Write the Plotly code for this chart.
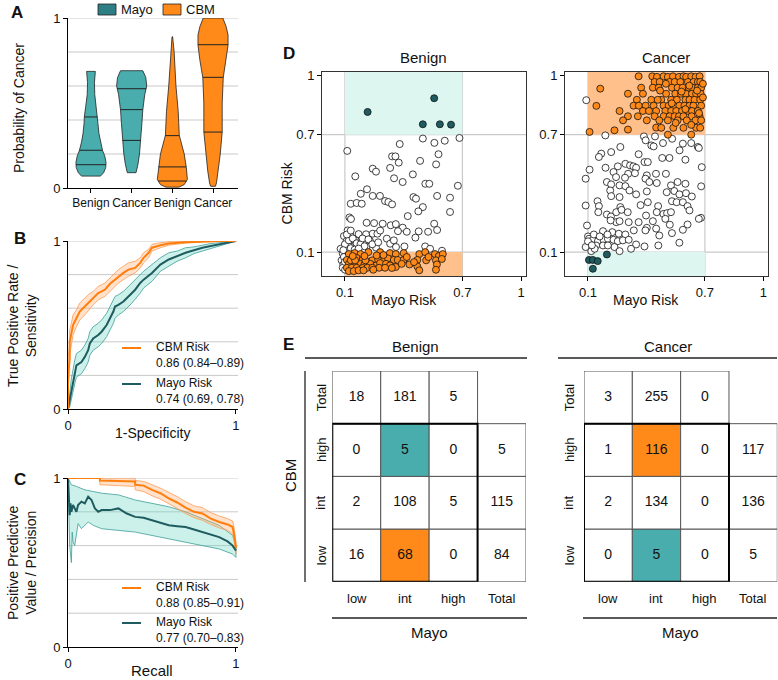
import numpy as np
import plotly.graph_objects as go

W, H = 778, 680
FONT = "Liberation Sans, Arial, Helvetica, sans-serif"

# ===================== DATA =====================
# ---- Panel A: violin profiles (level, relative density) and quartiles ----
violin_categories = ["Benign", "Cancer", "Benign", "Cancer"]
mayo_benign_levels = [0.07, 0.09, 0.12, 0.15, 0.19, 0.22, 0.27, 0.32, 0.38, 0.42, 0.48, 0.55, 0.62, 0.686]
mayo_benign_density = [0.63, 0.84, 0.98, 1.0, 0.91, 0.77, 0.63, 0.53, 0.46, 0.44, 0.35, 0.25, 0.23, 0.29]
mayo_cancer_levels = [0.09, 0.14, 0.2, 0.28, 0.38, 0.46, 0.55, 0.6, 0.65, 0.69]
mayo_cancer_density = [0.29, 0.42, 0.52, 0.61, 0.68, 0.74, 0.87, 1.0, 0.94, 0.74]
cbm_benign_levels = [0.005, 0.02, 0.05, 0.08, 0.12, 0.2, 0.31, 0.45, 0.6, 0.8, 0.89]
cbm_benign_density = [0.43, 0.79, 1.0, 0.96, 0.93, 0.79, 0.46, 0.39, 0.24, 0.12, 0.02]
cbm_cancer_levels = [0.01, 0.03, 0.1, 0.2, 0.33, 0.5, 0.65, 0.75, 0.84, 0.9, 0.95, 1.0]
cbm_cancer_density = [0.16, 0.23, 0.35, 0.48, 0.61, 0.61, 0.68, 0.87, 1.0, 1.0, 0.87, 0.65]
mayo_benign_quartiles = [0.137, 0.222, 0.418]
mayo_cancer_quartiles = [0.280, 0.461, 0.584]
cbm_benign_quartiles = [0.041, 0.124, 0.308]
cbm_cancer_quartiles = [0.329, 0.651, 0.843]

# ---- Panel B: ROC curves ----
cbm_roc_fpr = [0, 0, 0.01, 0.01, 0.02, 0.03, 0.05, 0.07, 0.1, 0.12, 0.15, 0.18, 0.2, 0.22, 0.25, 0.28, 0.3, 0.33,
               0.36, 0.4, 0.43, 0.45, 0.48, 0.5, 0.55, 0.6, 0.7, 0.8, 0.9, 1.0]
cbm_roc_tpr = [0, 0.2, 0.3, 0.4, 0.45, 0.5, 0.54, 0.58, 0.61, 0.63, 0.66, 0.69, 0.70, 0.71, 0.745, 0.77, 0.79, 0.81,
               0.83, 0.84, 0.87, 0.90, 0.93, 0.96, 0.975, 0.985, 0.993, 0.997, 1.0, 1.0]
cbm_roc_lo = [0, 0.12, 0.22, 0.32, 0.39, 0.44, 0.49, 0.53, 0.56, 0.58, 0.62, 0.65, 0.66, 0.67, 0.70, 0.73, 0.75, 0.77,
              0.79, 0.81, 0.84, 0.87, 0.90, 0.94, 0.96, 0.975, 0.988, 0.994, 0.998, 1.0]
cbm_roc_hi = [0, 0.3, 0.38, 0.47, 0.51, 0.56, 0.59, 0.63, 0.66, 0.68, 0.70, 0.73, 0.74, 0.75, 0.78, 0.81, 0.83, 0.85,
              0.87, 0.88, 0.90, 0.93, 0.95, 0.98, 0.99, 0.995, 0.998, 1.0, 1.0, 1.0]
mayo_roc_fpr = [0, 0.01, 0.02, 0.04, 0.05, 0.08, 0.1, 0.12, 0.13, 0.15, 0.18, 0.2, 0.23, 0.25, 0.27, 0.28, 0.3, 0.33,
                0.35, 0.38, 0.4, 0.43, 0.45, 0.5, 0.55, 0.6, 0.65, 0.7, 0.75, 0.8, 0.85, 0.9, 0.95, 1.0]
mayo_roc_tpr = [0, 0.05, 0.12, 0.22, 0.26, 0.28, 0.31, 0.35, 0.39, 0.42, 0.44, 0.46, 0.5, 0.54, 0.58, 0.61, 0.62, 0.64,
                0.66, 0.69, 0.71, 0.75, 0.77, 0.81, 0.86, 0.89, 0.91, 0.93, 0.945, 0.96, 0.97, 0.98, 0.99, 1.0]
mayo_roc_lo = [0, 0.01, 0.06, 0.15, 0.19, 0.21, 0.24, 0.28, 0.32, 0.35, 0.37, 0.39, 0.43, 0.47, 0.51, 0.54, 0.56, 0.58,
               0.60, 0.63, 0.65, 0.69, 0.72, 0.76, 0.82, 0.85, 0.88, 0.90, 0.925, 0.94, 0.955, 0.97, 0.985, 1.0]
mayo_roc_hi = [0, 0.09, 0.18, 0.29, 0.33, 0.35, 0.38, 0.42, 0.46, 0.49, 0.51, 0.53, 0.57, 0.61, 0.65, 0.67, 0.68, 0.70,
               0.72, 0.75, 0.77, 0.80, 0.82, 0.86, 0.90, 0.93, 0.94, 0.96, 0.965, 0.975, 0.985, 0.99, 0.995, 1.0]
cbm_roc_label = ["CBM Risk", "0.86 (0.84–0.89)"]
mayo_roc_label = ["Mayo Risk", "0.74 (0.69, 0.78)"]

# ---- Panel C: precision-recall curves ----
cbm_pr_recall = [0, 0.19, 0.19, 0.3, 0.4, 0.4, 0.45, 0.5, 0.55, 0.6, 0.65, 0.7, 0.75, 0.8, 0.85, 0.9, 0.95, 0.98,
                 0.99, 1.0]
cbm_pr_precision = [1.0, 1.0, 0.985, 0.983, 0.98, 0.96, 0.955, 0.93, 0.91, 0.88, 0.855, 0.825, 0.80, 0.79, 0.76,
                    0.74, 0.725, 0.71, 0.66, 0.585]
cbm_pr_lo = [1.0, 1.0, 0.96, 0.955, 0.95, 0.93, 0.92, 0.895, 0.875, 0.845, 0.82, 0.79, 0.765, 0.75, 0.725, 0.705,
             0.69, 0.67, 0.62, 0.55]
cbm_pr_hi = [1.0, 1.0, 1.0, 1.0, 1.0, 0.985, 0.98, 0.96, 0.94, 0.915, 0.89, 0.86, 0.835, 0.825, 0.795, 0.775, 0.76,
             0.745, 0.70, 0.62]
mayo_pr_recall = [0, 0.005, 0.01, 0.015, 0.02, 0.025, 0.03, 0.04, 0.05, 0.06, 0.08, 0.1, 0.12, 0.14, 0.16, 0.18,
                  0.2, 0.25, 0.3, 0.35, 0.4, 0.45, 0.5, 0.55, 0.6, 0.65, 0.7, 0.75, 0.8, 0.85, 0.9, 0.95, 0.98, 1.0]
mayo_pr_precision = [1.0, 0.9, 0.78, 0.85, 0.8, 0.82, 0.84, 0.82, 0.8, 0.84, 0.86, 0.85, 0.89, 0.87, 0.82, 0.8,
                     0.81, 0.81, 0.82, 0.79, 0.77, 0.765, 0.75, 0.735, 0.72, 0.715, 0.71, 0.695, 0.68, 0.665, 0.65,
                     0.625, 0.6, 0.57]
mayo_pr_lo_recall = [0, 0.01, 0.02, 0.025, 0.03, 0.04, 0.06, 0.08, 0.12, 0.15, 0.2, 0.3, 0.4, 0.5, 0.6, 0.7, 0.8,
                     0.9, 0.98, 1.0]
mayo_pr_lo = [1.0, 0.6, 0.5, 0.68, 0.62, 0.6, 0.73, 0.7, 0.74, 0.72, 0.70, 0.69, 0.68, 0.66, 0.64, 0.62, 0.60,
              0.58, 0.55, 0.53]
mayo_pr_hi_recall = [0, 0.02, 0.05, 0.1, 0.15, 0.2, 0.3, 0.4, 0.5, 0.6, 0.7, 0.8, 0.9, 0.98, 1.0]
mayo_pr_hi = [1.0, 0.96, 0.95, 0.93, 0.92, 0.91, 0.9, 0.87, 0.85, 0.83, 0.80, 0.76, 0.72, 0.66, 0.6]
cbm_pr_label = ["CBM Risk", "0.88 (0.85–0.91)"]
mayo_pr_label = ["Mayo Risk", "0.77 (0.70–0.83)"]

# ---- Panel D: (Mayo risk, CBM risk) per patient ----
benign_teal = [(0.216, 0.816), (0.556, 0.886), (0.498, 0.753), (0.585, 0.753), (0.642, 0.751)]
benign_orange = [
    (0.12, 0.09), (0.15, 0.095), (0.18, 0.09), (0.22, 0.10), (0.28, 0.10), (0.33, 0.095), (0.36, 0.09),
    (0.40, 0.095), (0.48, 0.09), (0.51, 0.10), (0.56, 0.09), (0.58, 0.08), (0.60, 0.09),
    (0.11, 0.06), (0.135, 0.066), (0.16, 0.07), (0.19, 0.06), (0.24, 0.058), (0.27, 0.06), (0.30, 0.058),
    (0.32, 0.068), (0.35, 0.06), (0.37, 0.06), (0.40, 0.06), (0.47, 0.06), (0.515, 0.058), (0.565, 0.058),
    (0.595, 0.065),
    (0.12, 0.04), (0.15, 0.044), (0.18, 0.04), (0.20, 0.037), (0.23, 0.04), (0.26, 0.032), (0.28, 0.044),
    (0.31, 0.04), (0.33, 0.032), (0.36, 0.024), (0.43, 0.037), (0.47, 0.027), (0.57, 0.037),
    (0.11, 0.02), (0.135, 0.02), (0.16, 0.02), (0.19, 0.019), (0.215, 0.02), (0.24, 0.02), (0.275, 0.02),
    (0.305, 0.02), (0.34, 0.019), (0.48, 0.007), (0.565, 0.01),
    (0.12, 0.003), (0.145, 0.003), (0.17, 0.007), (0.195, 0.007), (0.245, 0.01),
    (0.13, 0.058), (0.152, 0.058), (0.205, 0.058), (0.262, 0.083), (0.39, 0.04), (0.416, 0.075),
    (0.453, 0.049), (0.527, 0.075), (0.297, 0.085), (0.14, 0.08), (0.2, 0.08)]
benign_white = [
    (0.112, 0.617), (0.498, 0.680), (0.557, 0.658), (0.610, 0.669), (0.685, 0.683), (0.380, 0.652),
    (0.341, 0.589), (0.358, 0.589), (0.375, 0.557), (0.484, 0.566), (0.578, 0.600), (0.566, 0.548),
    (0.242, 0.526), (0.259, 0.511), (0.331, 0.530), (0.153, 0.487), (0.447, 0.497), (0.351, 0.477),
    (0.511, 0.449), (0.531, 0.449), (0.677, 0.439), (0.395, 0.458), (0.213, 0.421), (0.181, 0.398),
    (0.242, 0.387), (0.279, 0.387), (0.450, 0.381), (0.463, 0.373), (0.571, 0.387), (0.637, 0.378),
    (0.130, 0.347), (0.160, 0.351), (0.186, 0.347), (0.305, 0.361), (0.322, 0.356), (0.341, 0.344),
    (0.498, 0.330), (0.475, 0.308), (0.637, 0.305), (0.421, 0.284), (0.123, 0.277), (0.131, 0.269),
    (0.211, 0.250), (0.249, 0.248), (0.293, 0.245), (0.334, 0.237), (0.360, 0.243), (0.395, 0.225),
    (0.416, 0.204), (0.371, 0.207), (0.477, 0.206), (0.525, 0.204), (0.556, 0.245), (0.571, 0.213),
    (0.114, 0.211), (0.095, 0.182), (0.126, 0.191), (0.170, 0.192), (0.208, 0.191), (0.242, 0.194),
    (0.266, 0.194), (0.460, 0.174), (0.109, 0.157), (0.135, 0.158), (0.160, 0.157), (0.182, 0.155),
    (0.203, 0.151), (0.228, 0.157), (0.314, 0.169), (0.331, 0.143), (0.361, 0.126), (0.404, 0.129),
    (0.510, 0.129), (0.535, 0.117), (0.596, 0.107), (0.101, 0.135), (0.126, 0.129), (0.152, 0.135),
    (0.174, 0.123), (0.211, 0.129), (0.259, 0.123), (0.078, 0.117), (0.109, 0.112), (0.152, 0.105),
    (0.191, 0.109), (0.089, 0.092), (0.083, 0.058), (0.092, 0.036), (0.089, 0.020), (0.101, 0.010),
    (0.10, 0.14), (0.12, 0.16), (0.14, 0.17), (0.16, 0.145), (0.18, 0.14), (0.20, 0.13), (0.13, 0.12),
    (0.15, 0.113), (0.17, 0.118), (0.11, 0.19), (0.13, 0.21), (0.19, 0.17), (0.22, 0.165), (0.24, 0.14),
    (0.27, 0.15), (0.092, 0.11), (0.095, 0.075), (0.10, 0.05), (0.28, 0.21), (0.35, 0.16)]

cancer_teal = [(0.105, 0.06), (0.125, 0.06), (0.15, 0.054), (0.197, 0.088), (0.125, 0.015)]
cancer_orange = [
    (0.36, 0.998), (0.43, 0.998), (0.454, 0.995), (0.488, 0.998), (0.51, 0.995), (0.536, 0.998), (0.567, 0.995),
    (0.59, 0.998), (0.604, 0.995), (0.63, 0.998), (0.652, 0.995), (0.673, 0.998),
    (0.442, 0.969), (0.468, 0.969), (0.519, 0.969), (0.545, 0.969), (0.574, 0.969), (0.613, 0.969),
    (0.642, 0.969), (0.664, 0.969), (0.676, 0.969),
    (0.163, 0.935), (0.373, 0.94), (0.433, 0.94), (0.463, 0.94), (0.531, 0.94), (0.56, 0.94), (0.586, 0.94),
    (0.617, 0.94), (0.637, 0.94), (0.664, 0.94), (0.681, 0.94),
    (0.305, 0.909), (0.382, 0.909), (0.501, 0.909), (0.548, 0.909), (0.577, 0.909), (0.603, 0.909),
    (0.634, 0.909), (0.655, 0.909), (0.678, 0.909),
    (0.351, 0.878), (0.425, 0.878), (0.476, 0.878), (0.527, 0.878), (0.556, 0.878), (0.6, 0.878),
    (0.621, 0.878), (0.647, 0.878), (0.676, 0.878), (0.458, 0.878),
    (0.143, 0.847), (0.334, 0.848), (0.361, 0.848), (0.396, 0.848), (0.437, 0.848), (0.488, 0.848),
    (0.514, 0.848), (0.538, 0.848), (0.569, 0.848), (0.595, 0.848), (0.621, 0.848), (0.641, 0.848),
    (0.681, 0.848),
    (0.262, 0.821), (0.382, 0.821), (0.413, 0.821), (0.45, 0.821), (0.497, 0.821), (0.527, 0.821),
    (0.553, 0.821), (0.583, 0.821), (0.613, 0.821), (0.634, 0.821), (0.664, 0.821),
    (0.305, 0.794), (0.356, 0.794), (0.442, 0.794), (0.488, 0.794), (0.519, 0.794), (0.545, 0.794),
    (0.567, 0.794), (0.59, 0.794), (0.632, 0.794), (0.673, 0.794),
    (0.28, 0.773), (0.402, 0.773), (0.466, 0.773), (0.51, 0.773), (0.56, 0.773), (0.607, 0.773),
    (0.652, 0.773), (0.681, 0.773),
    (0.108, 0.714), (0.236, 0.722), (0.305, 0.726), (0.45, 0.736), (0.476, 0.735), (0.51, 0.70),
    (0.538, 0.735), (0.59, 0.735), (0.63, 0.70), (0.655, 0.735), (0.676, 0.735),
    (0.5, 0.96), (0.62, 0.95), (0.66, 0.925), (0.58, 0.92), (0.69, 0.89), (0.53, 0.86), (0.6, 0.83),
    (0.67, 0.81), (0.55, 0.76), (0.63, 0.75), (0.47, 0.925), (0.69, 0.96)]
cancer_white = [
    (0.091, 0.876), (0.189, 0.696), (0.387, 0.691), (0.444, 0.691), (0.396, 0.671), (0.425, 0.645),
    (0.437, 0.640), (0.485, 0.657), (0.532, 0.679), (0.587, 0.654), (0.630, 0.657), (0.664, 0.637),
    (0.669, 0.632), (0.481, 0.581), (0.518, 0.581), (0.600, 0.572), (0.266, 0.637), (0.219, 0.611),
    (0.168, 0.603), (0.156, 0.586), (0.390, 0.560), (0.407, 0.560), (0.108, 0.521), (0.088, 0.475),
    (0.190, 0.531), (0.253, 0.538), (0.292, 0.551), (0.316, 0.543), (0.333, 0.538), (0.347, 0.531),
    (0.306, 0.500), (0.341, 0.503), (0.231, 0.509), (0.244, 0.483), (0.402, 0.492), (0.449, 0.500),
    (0.197, 0.458), (0.219, 0.446), (0.262, 0.441), (0.292, 0.437), (0.395, 0.475), (0.415, 0.458),
    (0.453, 0.453), (0.684, 0.534), (0.681, 0.436), (0.526, 0.441), (0.560, 0.458), (0.600, 0.449),
    (0.214, 0.415), (0.219, 0.386), (0.262, 0.381), (0.313, 0.415), (0.347, 0.395), (0.402, 0.410),
    (0.504, 0.406), (0.543, 0.412), (0.569, 0.395), (0.603, 0.401), (0.633, 0.384), (0.531, 0.360),
    (0.555, 0.355), (0.587, 0.355), (0.611, 0.335), (0.149, 0.360), (0.088, 0.338), (0.156, 0.335),
    (0.266, 0.330), (0.407, 0.355), (0.460, 0.335), (0.453, 0.304), (0.487, 0.295), (0.506, 0.299),
    (0.526, 0.304), (0.621, 0.313), (0.153, 0.304), (0.197, 0.292), (0.218, 0.282), (0.245, 0.304),
    (0.272, 0.316), (0.304, 0.304), (0.309, 0.253), (0.360, 0.253), (0.398, 0.287), (0.433, 0.258),
    (0.497, 0.270), (0.402, 0.224), (0.395, 0.211), (0.335, 0.211), (0.245, 0.253), (0.262, 0.258),
    (0.216, 0.262), (0.680, 0.275), (0.669, 0.270), (0.611, 0.241), (0.587, 0.214), (0.531, 0.197),
    (0.466, 0.185), (0.569, 0.148), (0.177, 0.207), (0.225, 0.202), (0.258, 0.194), (0.292, 0.190),
    (0.100, 0.180), (0.105, 0.168), (0.125, 0.163), (0.151, 0.156), (0.180, 0.163), (0.202, 0.168),
    (0.231, 0.163), (0.253, 0.156), (0.279, 0.160), (0.309, 0.163), (0.347, 0.139), (0.390, 0.129),
    (0.461, 0.134), (0.112, 0.139), (0.142, 0.134), (0.177, 0.134), (0.236, 0.126), (0.262, 0.105),
    (0.321, 0.117), (0.117, 0.105), (0.088, 0.126), (0.134, 0.117), (0.202, 0.134), (0.095, 0.236),
    (0.13, 0.19), (0.16, 0.18), (0.2, 0.19), (0.1, 0.155), (0.12, 0.135), (0.37, 0.34), (0.52, 0.24),
    (0.45, 0.22), (0.29, 0.48), (0.36, 0.6), (0.5, 0.5), (0.57, 0.62)]
risk_ticks = [0.1, 0.7, 1]
risk_cut_low, risk_cut_high = 0.1, 0.7

# ---- Panel E: cross tables (rows = CBM low/int/high, cols = Mayo low/int/high) ----
risk_levels = ["low", "int", "high"]
benign_counts = [[16, 68, 0], [2, 108, 5], [0, 5, 0]]
benign_row_totals = [84, 115, 5]
benign_col_totals = [18, 181, 5]
cancer_counts = [[0, 5, 0], [2, 134, 0], [1, 116, 0]]
cancer_row_totals = [5, 136, 117]
cancer_col_totals = [3, 255, 0]

# ===================== STYLE =====================
TEAL = "#49ADAD"
TEAL_DARK = "#1F5C60"
TEAL_LEG = "#2E7F85"
ORANGE = "#FF8A1A"
ORANGE_LINE = "#FF7F0E"
ORANGE_FILL = "#FFC08C"
TEAL_FILL = "#DDF6F0"
GRID = "#C9C9C9"


def xd(a, b):
    return [a / W, b / W]


def yd(top, bottom):
    return [1 - bottom / H, 1 - top / H]


def px(x):
    return x / W


def py(y):
    return 1 - y / H


fig = go.Figure()
annotations = []
shapes = []


def ann(text, x, y, size=13, xanchor="center", yanchor="middle", angle=0, bold=False, xref="paper",
        yref="paper", color="#111"):
    annotations.append(dict(text=("<b>%s</b>" % text) if bold else text, x=x, y=y, xref=xref, yref=yref,
                            showarrow=False, xanchor=xanchor, yanchor=yanchor, textangle=angle,
                            font=dict(family=FONT, size=size, color=color)))


base_axis = dict(showgrid=False, zeroline=False, showline=True, linecolor="black", linewidth=1,
                 ticks="outside", ticklen=4, tickcolor="black", automargin=False,
                 tickfont=dict(family=FONT, size=13, color="#111"))

# ===================== PANEL A =====================
violins = [
    (mayo_benign_levels, mayo_benign_density, mayo_benign_quartiles, TEAL),
    (mayo_cancer_levels, mayo_cancer_density, mayo_cancer_quartiles, TEAL),
    (cbm_benign_levels, cbm_benign_density, cbm_benign_quartiles, ORANGE),
    (cbm_cancer_levels, cbm_cancer_density, cbm_cancer_quartiles, ORANGE),
]
HALF = 0.37
for i, (lv, dens, qs, col) in enumerate(violins):
    hw = [d * HALF for d in dens]
    xs = [i - w for w in hw] + [i + w for w in hw[::-1]] + [i - hw[0]]
    ys = list(lv) + list(lv[::-1]) + [lv[0]]
    fig.add_trace(go.Scatter(x=xs, y=ys, fill="toself", fillcolor=col, mode="lines",
                             line=dict(color="#222", width=0.8), xaxis="x", yaxis="y",
                             showlegend=False, hoverinfo="skip"))
    for q in qs:
        w = float(np.interp(q, lv, hw))
        fig.add_trace(go.Scatter(x=[i - w, i + w], y=[q, q], mode="lines", line=dict(color="#222", width=1),
                                 xaxis="x", yaxis="y", showlegend=False, hoverinfo="skip"))
for g in [0.2, 0.4, 0.6, 0.8, 1.0]:
    shapes.append(dict(type="line", xref="x domain", yref="y", x0=0, x1=1, y0=g, y1=g,
                       line=dict(color=GRID, width=1), layer="below"))

# legend A
shapes.append(dict(type="rect", xref="paper", yref="paper", x0=px(98), x1=px(116), y0=py(15), y1=py(4),
                   fillcolor=TEAL_LEG, line=dict(color="#222", width=0.8)))
ann("Mayo", px(119), py(9.5), 13, xanchor="left")
shapes.append(dict(type="rect", xref="paper", yref="paper", x0=px(163), x1=px(181), y0=py(15), y1=py(4),
                   fillcolor=ORANGE, line=dict(color="#222", width=0.8)))
ann("CBM", px(184), py(9.5), 13, xanchor="left")


# ===================== PANEL B =====================
def band(xu, yu, xl, yl, fill, edge, xa, ya):
    fig.add_trace(go.Scatter(x=list(xu) + list(xl[::-1]), y=list(yu) + list(yl[::-1]), fill="toself",
                             fillcolor=fill, mode="lines", line=dict(color=edge, width=0.8),
                             xaxis=xa, yaxis=ya, showlegend=False, hoverinfo="skip"))


band(mayo_roc_fpr, mayo_roc_hi, mayo_roc_fpr, mayo_roc_lo, "rgba(110,215,195,0.35)", "#3E9E98", "x2", "y2")
band(cbm_roc_fpr, cbm_roc_hi, cbm_roc_fpr, cbm_roc_lo, "rgba(255,170,110,0.35)", "#FF9A50", "x2", "y2")
fig.add_trace(go.Scatter(x=mayo_roc_fpr, y=mayo_roc_tpr, mode="lines", line=dict(color=TEAL_DARK, width=2),
                         xaxis="x2", yaxis="y2", showlegend=False, hoverinfo="skip"))
fig.add_trace(go.Scatter(x=cbm_roc_fpr, y=cbm_roc_tpr, mode="lines", line=dict(color=ORANGE_LINE, width=2),
                         xaxis="x2", yaxis="y2", showlegend=False, hoverinfo="skip"))
for ref in ["y2", "y3"]:
    for g in [0.2, 0.4, 0.6, 0.8, 1.0]:
        shapes.append(dict(type="line", xref=ref.replace("y", "x") + " domain", yref=ref, x0=0, x1=1, y0=g, y1=g,
                           line=dict(color=GRID, width=1), layer="below"))

# ===================== PANEL C =====================
band(mayo_pr_hi_recall, mayo_pr_hi, mayo_pr_lo_recall, mayo_pr_lo, "rgba(110,215,195,0.35)", "#3E9E98", "x3", "y3")
band(cbm_pr_recall, cbm_pr_hi, cbm_pr_recall, cbm_pr_lo, "rgba(255,170,110,0.35)", "#FF9A50", "x3", "y3")
fig.add_trace(go.Scatter(x=mayo_pr_recall, y=mayo_pr_precision, mode="lines", line=dict(color=TEAL_DARK, width=2),
                         xaxis="x3", yaxis="y3", showlegend=False, hoverinfo="skip"))
fig.add_trace(go.Scatter(x=cbm_pr_recall, y=cbm_pr_precision, mode="lines", line=dict(color=ORANGE_LINE, width=2),
                         xaxis="x3", yaxis="y3", showlegend=False, hoverinfo="skip"))

# legends B, C
for (lab_c, lab_m, yc, ym) in [(cbm_roc_label, mayo_roc_label, 347, 383), (cbm_pr_label, mayo_pr_label, 587, 622)]:
    shapes.append(dict(type="line", xref="paper", yref="paper", x0=px(122), x1=px(141), y0=py(yc + 1),
                       y1=py(yc + 1), line=dict(color=ORANGE_LINE, width=2)))
    shapes.append(dict(type="line", xref="paper", yref="paper", x0=px(122), x1=px(141), y0=py(ym + 1),
                       y1=py(ym + 1), line=dict(color=TEAL_DARK, width=2)))
    ann(lab_c[0], px(154), py(yc), 12, xanchor="left")
    ann(lab_c[1], px(154), py(yc + 15.5), 12, xanchor="left")
    ann(lab_m[0], px(154), py(ym), 12, xanchor="left")
    ann(lab_m[1], px(154), py(ym + 15.5), 12, xanchor="left")

# ===================== PANEL D =====================
for xa, ya, top_fill, bot_fill, white, teal, orange in [
        ("x4", "y4", TEAL_FILL, ORANGE_FILL, benign_white, benign_teal, benign_orange),
        ("x5", "y5", ORANGE_FILL, TEAL_FILL, cancer_white, cancer_teal, cancer_orange)]:
    shapes.append(dict(type="rect", xref=xa, yref=ya, x0=risk_cut_low, x1=risk_cut_high, y0=risk_cut_high,
                       y1=1.02, fillcolor=top_fill, line=dict(width=0), layer="below"))
    shapes.append(dict(type="rect", xref=xa, yref=ya, x0=risk_cut_low, x1=risk_cut_high, y0=-0.022,
                       y1=risk_cut_low, fillcolor=bot_fill, line=dict(width=0), layer="below"))
    for c in [risk_cut_low, risk_cut_high]:
        shapes.append(dict(type="line", xref=xa, yref=ya + " domain", x0=c, x1=c, y0=0, y1=1,
                           line=dict(color=GRID, width=1.2), layer="below"))
        shapes.append(dict(type="line", xref=xa + " domain", yref=ya, x0=0, x1=1, y0=c, y1=c,
                           line=dict(color=GRID, width=1.2), layer="below"))
    for pts, col in [(white, "white"), (orange, ORANGE), (teal, TEAL_DARK)]:
        fig.add_trace(go.Scatter(x=[p[0] for p in pts], y=[p[1] for p in pts], mode="markers",
                                 marker=dict(size=7, color=col, line=dict(color="#111", width=0.8)),
                                 xaxis=xa, yaxis=ya, showlegend=False, hoverinfo="skip"))


# ===================== PANEL E =====================
def draw_table(xa, ya, counts, row_tot, col_tot, hi_teal, hi_orange):
    cells = []
    for r in range(3):
        for c in range(3):
            cells.append((r, c, counts[r][c]))
    for c in range(3):
        cells.append((3, c, col_tot[c]))
    for r in range(3):
        cells.append((r, 3, row_tot[r]))
    tx, ty, tt = [], [], []
    for r, c, v in cells:
        fill = "white"
        if (r, c) == hi_teal:
            fill = TEAL
        elif (r, c) == hi_orange:
            fill = ORANGE
        shapes.append(dict(type="rect", xref=xa, yref=ya, x0=c, x1=c + 1, y0=r, y1=r + 1, fillcolor=fill,
                           line=dict(color="#555", width=1), layer="below"))
        tx.append(c + 0.5)
        ty.append(r + 0.5)
        tt.append(str(v))
    shapes.append(dict(type="rect", xref=xa, yref=ya, x0=0, x1=3, y0=0, y1=3, fillcolor="rgba(0,0,0,0)",
                       line=dict(color="black", width=2)))
    fig.add_trace(go.Scatter(x=tx, y=ty, text=tt, mode="text", textfont=dict(family=FONT, size=14, color="#111"),
                             xaxis=xa, yaxis=ya, showlegend=False, hoverinfo="skip"))


draw_table("x6", "y6", benign_counts, benign_row_totals, benign_col_totals, (2, 1), (0, 1))
draw_table("x7", "y7", cancer_counts, cancer_row_totals, cancer_col_totals, (0, 1), (2, 1))

row_names = risk_levels + ["Total"]
col_names = risk_levels + ["Total"]
for xa, ya, lab_x in [("x6", "y6", 321), ("x7", "y7", 569)]:
    for i, nm in enumerate(row_names):
        ann(nm, px(lab_x), i + 0.5, 13, angle=-90, yref=ya)
    for i, nm in enumerate(col_names):
        ann(nm, i + 0.5, py(598), 13, xref=xa)
    ann("Mayo", 2, py(632), 15, xref=xa)

ann("Benign", px(416), py(346), 15)
ann("Cancer", px(668), py(346), 15)
shapes += [
    dict(type="line", xref="paper", yref="paper", x0=px(305), x1=px(527), y0=py(358), y1=py(358),
         line=dict(color="#222", width=1.3)),
    dict(type="line", xref="paper", yref="paper", x0=px(558), x1=px(777), y0=py(358), y1=py(358),
         line=dict(color="#222", width=1.3)),
    dict(type="line", xref="paper", yref="paper", x0=px(305), x1=px(305), y0=py(371), y1=py(582),
         line=dict(color="#222", width=1.3)),
    dict(type="line", xref="paper", yref="paper", x0=px(332), x1=px(527), y0=py(618), y1=py(618),
         line=dict(color="#222", width=1.3)),
    dict(type="line", xref="paper", yref="paper", x0=px(583), x1=px(777), y0=py(618), y1=py(618),
         line=dict(color="#222", width=1.3)),
]
ann("CBM", px(291), py(476), 15, angle=-90)

# ===================== TEXT: titles & letters =====================
ann("A", px(9), py(12), 17, xanchor="left", bold=True)
ann("B", px(12), py(239), 17, xanchor="left", bold=True)
ann("C", px(12), py(479), 17, xanchor="left", bold=True)
ann("D", px(281), py(54), 17, xanchor="left", bold=True)
ann("E", px(281), py(344), 17, xanchor="left", bold=True)

ann("Probability of Cancer", px(19), py(108), 14, angle=-90)
ann("True Positive Rate /<br>Sensitivity", px(22), py(326), 14, angle=-90)
ann("1-Specificity", px(152), py(433), 14)
ann("Positive Predictive<br>Value / Precision", px(22), py(563), 14, angle=-90)
ann("Recall", px(152), py(670), 15)

ann("Benign", px(424), py(57), 15)
ann("Cancer", px(666), py(57), 15)
ann("CBM Risk", px(287), 0.4, 14, angle=-90, yref="y4")
ann("Mayo Risk", 0.4, py(300), 14, xref="x4")
ann("Mayo Risk", 0.4, py(300), 14, xref="x5")

# ===================== LAYOUT =====================
layout = dict(
    width=W, height=H, autosize=False, margin=dict(l=0, r=0, t=0, b=0, pad=0, autoexpand=False),
    paper_bgcolor="white", plot_bgcolor="rgba(0,0,0,0)", showlegend=False,
    font=dict(family=FONT, size=13, color="#111"),
    xaxis=dict(base_axis, domain=xd(68, 238), range=[-0.565, 3.614], tickvals=[0, 1, 2, 3],
               ticktext=violin_categories, tickfont=dict(family=FONT, size=12, color="#111")),
    yaxis=dict(base_axis, domain=yd(18, 188), range=[0, 1], tickvals=[0, 1], ticktext=["0", "1"]),
    xaxis2=dict(base_axis, domain=xd(68, 238), range=[0, 1.012], tickvals=[0, 1], ticktext=["0", "1"]),
    yaxis2=dict(base_axis, domain=yd(241, 409), range=[0, 1], tickvals=[0, 1], ticktext=["0", "1"]),
    xaxis3=dict(base_axis, domain=xd(68, 238), range=[0, 1.012], tickvals=[0, 1], ticktext=["0", "1"]),
    yaxis3=dict(base_axis, domain=yd(478, 647), range=[0, 1], tickvals=[0, 1], ticktext=["0", "1"]),
    xaxis4=dict(base_axis, domain=xd(322, 526), range=[-0.017, 1.025], tickvals=risk_ticks,
                ticktext=["0.1", "0.7", "1"], mirror=True, linecolor="#333"),
    yaxis4=dict(base_axis, domain=yd(72, 276), range=[-0.022, 1.02], tickvals=risk_ticks,
                ticktext=["0.1", "0.7", "1"], mirror=True, linecolor="#333"),
    xaxis5=dict(base_axis, domain=xd(565, 768), range=[-0.018, 1.024], tickvals=risk_ticks,
                ticktext=["0.1", "0.7", "1"], mirror=True, linecolor="#333"),
    yaxis5=dict(base_axis, domain=yd(72, 276), range=[-0.022, 1.02], tickvals=risk_ticks,
                ticktext=["0.1", "0.7", "1"], mirror=True, linecolor="#333"),
    xaxis6=dict(visible=False, domain=xd(332.3, 526), range=[0, 4], fixedrange=True, automargin=False),
    yaxis6=dict(visible=False, domain=yd(371, 581.7), range=[0, 4], fixedrange=True, automargin=False),
    xaxis7=dict(visible=False, domain=xd(584, 777.3), range=[0, 4], fixedrange=True, automargin=False),
    yaxis7=dict(visible=False, domain=yd(371, 581.7), range=[0, 4], fixedrange=True, automargin=False),
    shapes=shapes, annotations=annotations,
)
for i in range(2, 8):
    layout["xaxis%d" % i]["anchor"] = "y%d" % i
    layout["yaxis%d" % i]["anchor"] = "x%d" % i
layout["xaxis"]["anchor"] = "y"
layout["yaxis"]["anchor"] = "x"
fig.update_layout(**layout)

# the page's default body margin would offset the fixed-size figure; remove it
fig.write_html("out.html", config={"displayModeBar": False, "staticPlot": True},
               post_script="document.body.style.margin='0px';document.body.style.padding='0px';"
                           "document.documentElement.style.overflow='hidden';")
